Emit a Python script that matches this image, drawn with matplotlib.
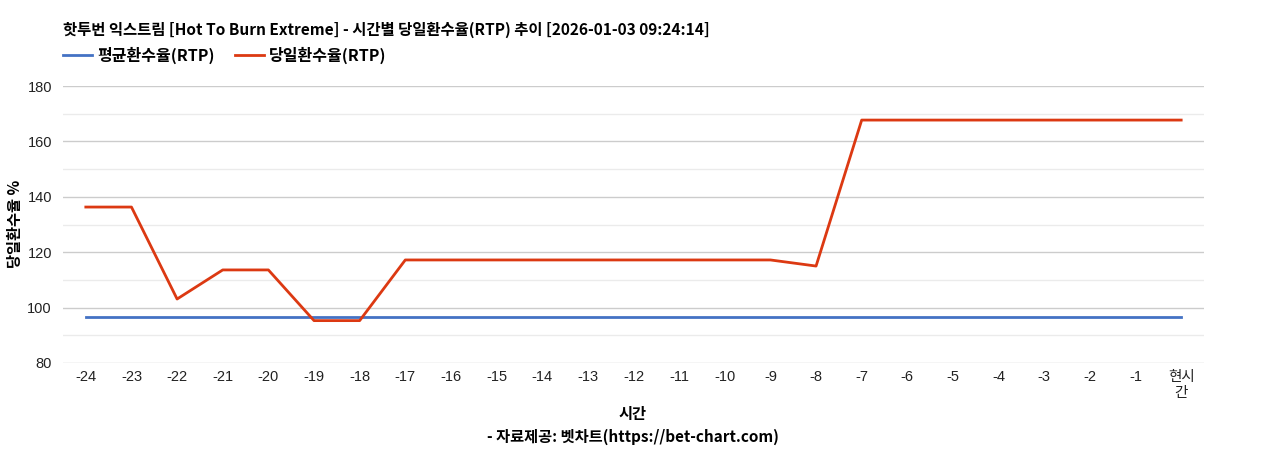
import matplotlib
matplotlib.use("Agg")
import matplotlib.pyplot as plt
from matplotlib.ticker import MultipleLocator

plt.rcParams['font.family'] = ['Noto Sans CJK KR', 'DejaVu Sans']

categories = ['-24', '-23', '-22', '-21', '-20', '-19', '-18', '-17', '-16', '-15', '-14', '-13',
              '-12', '-11', '-10', '-9', '-8', '-7', '-6', '-5', '-4', '-3', '-2', '-1', '현시\n간']
avg_rtp = [96.6] * 25
daily_rtp = [136.3, 136.3, 103.1, 113.6, 113.6, 95.3, 95.3, 117.2, 117.2, 117.2, 117.2, 117.2,
             117.2, 117.2, 117.2, 117.2, 115.0, 167.7, 167.7, 167.7, 167.7, 167.7, 167.7, 167.7, 167.7]
y_ticks = [80, 100, 120, 140, 160, 180]

title = '핫투번 익스트림 [Hot To Burn Extreme] - 시간별 당일환수율(RTP) 추이 [2026-01-03 09:24:14]'

W, H = 1268, 450
fig = plt.figure(figsize=(W / 100, H / 100), dpi=100)
ax = fig.add_axes([63 / W, 1 - 363 / H, (1204 - 63) / W, (363 - 86) / H])

x = list(range(len(categories)))
ax.plot(x, avg_rtp, color='#4472c4', lw=2, label='평균환수율(RTP)', zorder=3)
ax.plot(x, daily_rtp, color='#dc3912', lw=2, label='당일환수율(RTP)', zorder=4)

ax.set_xlim(-0.5, len(categories) - 0.5)
ax.set_ylim(80, 180)
ax.set_yticks(y_ticks)
ax.yaxis.set_minor_locator(MultipleLocator(10))
ax.set_xticks(x)
ax.set_xticklabels(categories, family=['Liberation Sans', 'Noto Sans CJK KR'], linespacing=1.15)
ax.set_yticklabels([str(v) for v in y_ticks], family='Liberation Sans')
ax.tick_params(axis='both', length=0, labelsize=10.5, colors='#222222')
ax.tick_params(axis='x', pad=5)
ax.tick_params(axis='y', pad=8)
ax.tick_params(which='minor', length=0)
ax.grid(True, which='major', axis='y', color='#cccccc', lw=1)
ax.grid(True, which='minor', axis='y', color='#ebebeb', lw=1)
ax.set_axisbelow(True)
for s in ax.spines.values():
    s.set_visible(False)

fig.text(63 / W, 1 - 30 / H, title, fontsize=11.1, fontweight='bold', va='center', ha='left', color='#000000')

handles, labels = ax.get_legend_handles_labels()
fig.legend(handles, labels, loc='center left', bbox_to_anchor=(63 / W, 1 - 55 / H), ncol=2,
           frameon=False, prop={'weight': 'bold', 'size': 11.5},
           handlelength=1.8, handletextpad=0.35, columnspacing=1.25, borderaxespad=0, borderpad=0)

fig.text(15 / W, 1 - 224 / H, '당일환수율 %', rotation=90, fontsize=11, fontweight='bold', va='center', ha='center')
fig.text(633 / W, 1 - 414 / H, '시간', fontsize=11, fontweight='bold', va='center', ha='center')
fig.text(633 / W, 1 - 437 / H, '- 자료제공: 벳차트(https://bet-chart.com)', fontsize=11, fontweight='bold', va='center', ha='center')

fig.savefig('out.png', dpi=100, facecolor='white')
